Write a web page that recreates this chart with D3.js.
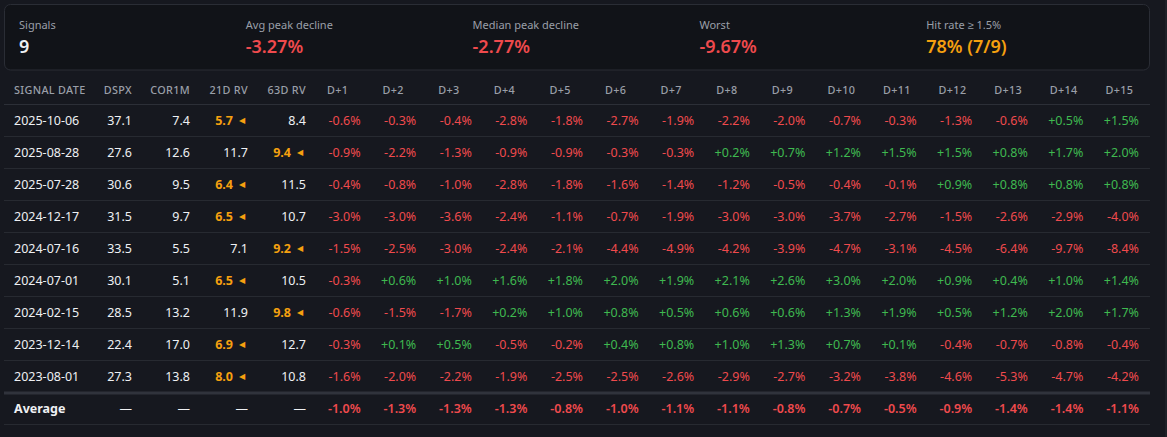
<!DOCTYPE html>
<html>
<head>
<meta charset="utf-8">
<script src="https://d3js.org/d3.v7.min.js"></script>
<style>
 html, body { margin: 0; padding: 0; background: #16181f; overflow: hidden; }
 svg { display: block; font-family: "Noto Sans", sans-serif; }
</style>
</head>
<body>
<svg id="chart" width="1167" height="437"></svg>
<script>
 // summary cards
 var statLabels = ["Signals", "Avg peak decline", "Median peak decline", "Worst", "Hit rate \u2265 1.5%"];
 var statValues = ["9", "-3.27%", "-2.77%", "-9.67%", "78% (7/9)"];
 var statKinds  = ["plain", "neg", "neg", "neg", "warn"];

 // table
 var fixedCols = ["SIGNAL DATE", "DSPX", "COR1M", "21D RV", "63D RV"];
 var dayCols = d3.range(1, 16).map(function (d) { return "D+" + d; });

 var dates = ["2025-10-06", "2025-08-28", "2025-07-28", "2024-12-17", "2024-07-16",
              "2024-07-01", "2024-02-15", "2023-12-14", "2023-08-01"];
 var dspx  = [37.1, 27.6, 30.6, 31.5, 33.5, 30.1, 28.5, 22.4, 27.3];
 var cor1m = [7.4, 12.6, 9.5, 9.7, 5.5, 5.1, 13.2, 17.0, 13.8];
 var rv21  = [5.7, 11.7, 6.4, 6.5, 7.1, 6.5, 11.9, 6.9, 8.0];
 var rv63  = [8.4, 9.4, 11.5, 10.7, 9.2, 10.5, 9.8, 12.7, 10.8];
 // which RV column is flagged on each row
 var flagged = ["21D", "63D", "21D", "21D", "63D", "21D", "63D", "21D", "21D"];

 var moves = [
   [-0.6, -0.3, -0.4, -2.8, -1.8, -2.7, -1.9, -2.2, -2.0, -0.7, -0.3, -1.3, -0.6, 0.5, 1.5],
   [-0.9, -2.2, -1.3, -0.9, -0.9, -0.3, -0.3, 0.2, 0.7, 1.2, 1.5, 1.5, 0.8, 1.7, 2.0],
   [-0.4, -0.8, -1.0, -2.8, -1.8, -1.6, -1.4, -1.2, -0.5, -0.4, -0.1, 0.9, 0.8, 0.8, 0.8],
   [-3.0, -3.0, -3.6, -2.4, -1.1, -0.7, -1.9, -3.0, -3.0, -3.7, -2.7, -1.5, -2.6, -2.9, -4.0],
   [-1.5, -2.5, -3.0, -2.4, -2.1, -4.4, -4.9, -4.2, -3.9, -4.7, -3.1, -4.5, -6.4, -9.7, -8.4],
   [-0.3, 0.6, 1.0, 1.6, 1.8, 2.0, 1.9, 2.1, 2.6, 3.0, 2.0, 0.9, 0.4, 1.0, 1.4],
   [-0.6, -1.5, -1.7, 0.2, 1.0, 0.8, 0.5, 0.6, 0.6, 1.3, 1.9, 0.5, 1.2, 2.0, 1.7],
   [-0.3, 0.1, 0.5, -0.5, -0.2, 0.4, 0.8, 1.0, 1.3, 0.7, 0.1, -0.4, -0.7, -0.8, -0.4],
   [-1.6, -2.0, -2.2, -1.9, -2.5, -2.5, -2.6, -2.9, -2.7, -3.2, -3.8, -4.6, -5.3, -4.7, -4.2]
 ];
 var averages = [-1.0, -1.3, -1.3, -1.3, -0.8, -1.0, -1.1, -1.1, -0.8, -0.7, -0.5, -0.9, -1.4, -1.4, -1.1];

 var RED = "#ef4a4d", GREEN = "#3fb950", ORANGE = "#f5a00f", WHITE = "#eef0f3", GREY = "#9a9fa8";
 var kindColor = { plain: WHITE, neg: RED, warn: ORANGE };

 var svg = d3.select("#chart");
 var W = 1167, H = 437;

 svg.append("rect").attr("width", W).attr("height", H).attr("fill", "#16181f");
 svg.append("rect").attr("x", 1165).attr("width", 2).attr("height", H).attr("fill", "#1e2128");

 // ---- summary card ----
 var card = svg.append("g");
 card.append("rect")
    .attr("x", 4.5).attr("y", 4.5).attr("width", 1145).attr("height", 65.5)
    .attr("rx", 6).attr("fill", "#111318").attr("stroke", "#2a2d35");

 var statX = d3.scaleBand().domain(statLabels).range([19, 19 + 5 * 226.8]);
 var stat = card.selectAll("g.stat").data(statLabels).enter().append("g")
    .attr("transform", function (d) { return "translate(" + statX(d) + ",0)"; });
 stat.append("text").attr("y", 29).attr("font-size", "11px").attr("fill", GREY)
    .text(function (d) { return d; });
 stat.append("text").attr("y", 53).attr("font-size", "18px").attr("font-weight", 600)
    .attr("fill", function (d, i) { return kindColor[statKinds[i]]; })
    .text(function (d, i) { return statValues[i]; });

 // ---- table ----
 var tableLeft = 4, tableRight = 1150;
 var fixedX = d3.scaleOrdinal().domain(fixedCols).range([4, 84, 142, 200, 258]);
 var fixedW = d3.scaleOrdinal().domain(fixedCols).range([80, 58, 58, 58, 58]);
 var dayX = d3.scaleBand().domain(dayCols).range([316, tableRight]);
 var pad = 10;

 var rowKeys = dates.concat(["Average"]);
 var rowY = d3.scaleBand().domain(rowKeys).range([104, 104 + rowKeys.length * 32]);

 var g = svg.append("g");

 // header
 var headerBase = 94;
 g.selectAll("text.fh").data(fixedCols).enter().append("text")
    .attr("class", "fh")
    .attr("x", function (d, i) { return i === 0 ? fixedX(d) + pad : fixedX(d) + fixedW(d) - pad; })
    .attr("y", headerBase)
    .attr("text-anchor", function (d, i) { return i === 0 ? "start" : "end"; })
    .attr("font-size", "10.8px").attr("font-weight", 500).attr("letter-spacing", "0.35px")
    .attr("fill", GREY).text(function (d) { return d; });
 g.selectAll("text.dh").data(dayCols).enter().append("text")
    .attr("class", "dh")
    .attr("x", function (d) { return dayX(d) + pad + 1; })
    .attr("y", headerBase)
    .attr("font-size", "10.8px").attr("font-weight", 500).attr("letter-spacing", "0.35px")
    .attr("fill", GREY).text(function (d) { return d; });

 // separators
 g.append("line").attr("x1", tableLeft).attr("x2", tableRight)
    .attr("y1", 104.5).attr("y2", 104.5).attr("stroke", "#2c2f37");
 rowKeys.forEach(function (k, i) {
   var yb = rowY(k) + rowY.bandwidth();
   var last = i === rowKeys.length - 2;
   g.append("line").attr("x1", tableLeft).attr("x2", tableRight)
      .attr("y1", last ? yb + 1 : yb + 0.5).attr("y2", last ? yb + 1 : yb + 0.5)
      .attr("stroke", last ? "#30333c" : "#272a31")
      .attr("stroke-width", last ? 3 : 1);
 });

 function fmt(v) { return (v > 0 ? "+" : "") + v.toFixed(1) + "%"; }
 function fcolor(v) { return v > 0 ? GREEN : RED; }

 var rows = g.selectAll("g.row").data(rowKeys).enter().append("g")
    .attr("transform", function (d) { return "translate(0," + (rowY(d) + rowY.bandwidth() / 2 + 4.5) + ")"; });

 rows.each(function (d, r) {
   var row = d3.select(this);
   var isAvg = d === "Average";
   row.append("text").attr("x", fixedX("SIGNAL DATE") + pad).attr("font-size", "12.5px")
      .attr("font-weight", isAvg ? 700 : 400).attr("fill", WHITE).text(d);

   var nums = isAvg ? [null, null, null, null] : [dspx[r], cor1m[r], rv21[r], rv63[r]];
   fixedCols.slice(1).forEach(function (c, j) {
     var t = row.append("text")
        .attr("x", fixedX(c) + fixedW(c) - pad)
        .attr("text-anchor", "end").attr("font-size", "12.5px").attr("fill", WHITE);
     if (nums[j] === null) { t.text("\u2014"); return; }
     var hl = (c === "21D RV" && flagged[r] === "21D") || (c === "63D RV" && flagged[r] === "63D");
     if (hl) {
       t.append("tspan").attr("fill", ORANGE).attr("font-weight", 700).text(nums[j].toFixed(1));
       t.append("tspan").attr("fill", ORANGE).attr("font-size", "8px").attr("dx", 6).attr("dy", -1.5).text("\u25C0");
       t.attr("x", fixedX(c) + fixedW(c) - pad - 3);
     } else {
       t.text(nums[j].toFixed(1));
     }
   });

   var vals = isAvg ? averages : moves[r];
   row.selectAll("text.dv").data(vals).enter().append("text")
      .attr("class", "dv")
      .attr("x", function (v, k) { return dayX(dayCols[k]) + dayX.bandwidth() - pad - 1; })
      .attr("text-anchor", "end").attr("font-size", "12.5px")
      .attr("font-weight", isAvg ? 600 : 400)
      .attr("fill", fcolor).text(fmt);
 });
</script>
</body>
</html>
